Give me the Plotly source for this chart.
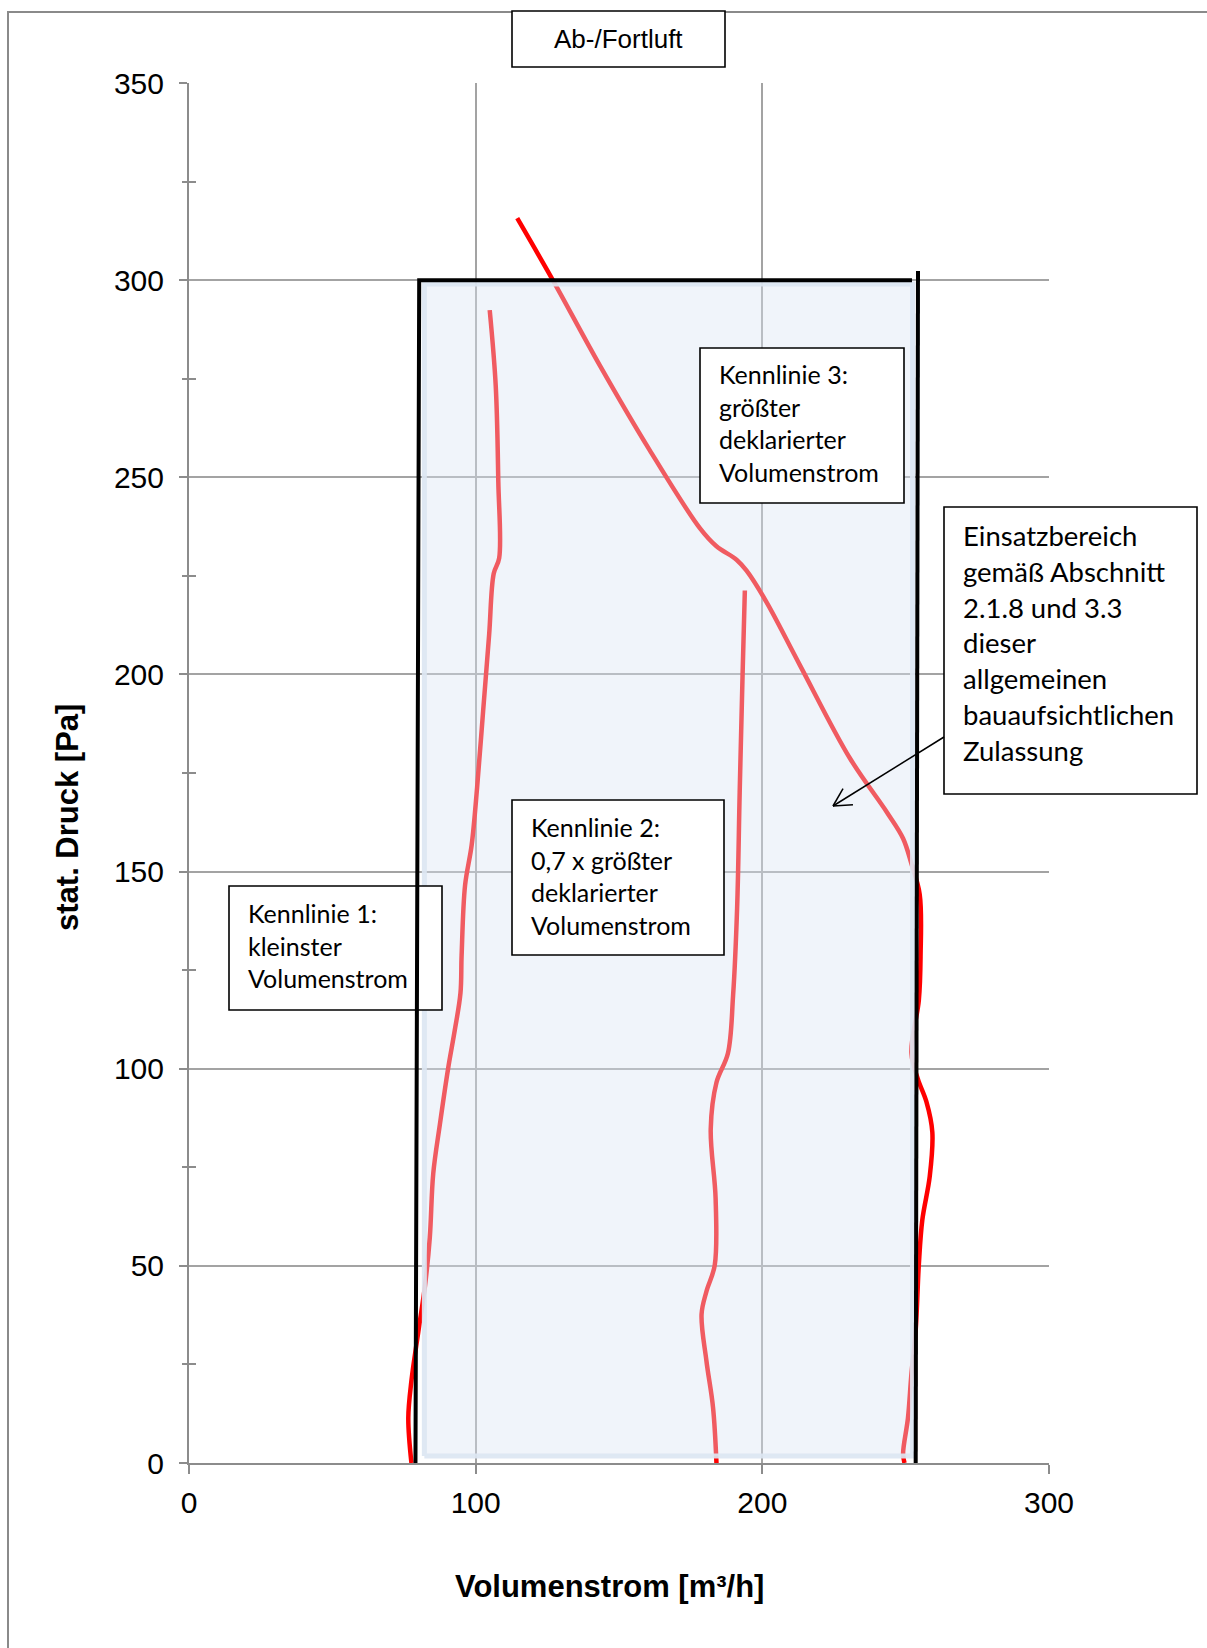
import math
import plotly.graph_objects as go

# ---- characteristic curves (Volumenstrom m³/h vs. stat. Druck Pa) ----
k1_flow = [77.6, 76.5, 77.6, 80.0, 82.3, 84.0, 85.2, 87.5, 90.4, 92.7, 94.7, 95.1,
           96.3, 98.6, 100.5, 102.6, 104.7, 106.3, 108.2, 107.9, 107.0, 104.9]
k1_pressure = [0, 11.4, 20.9, 33.3, 44.8, 57.2, 73.4, 85.8, 100.1, 109.7, 119.2, 128.8,
               146.5, 156.7, 171.3, 190.7, 210.1, 225.6, 229.5, 248.9, 273.2, 292.4]

k2_flow = [184.0, 182.8, 180.5, 178.8, 180.5, 183.4, 183.7, 182.0, 184.0, 188.0,
           189.8, 191.2, 192.1, 193.1, 193.9]
k2_pressure = [0, 14.1, 25.9, 37.7, 43.5, 50.2, 67.1, 84.7, 96.5, 103.9,
               118.6, 140.7, 170.1, 199.6, 221.3]

k3_flow = [114.5, 127.0, 143.3, 160.7, 178.2, 184.0, 191.0, 194.5, 201.4, 213.0,
           230.5, 243.5, 249.1, 252.0, 254.9, 255.2, 254.6, 252.0, 254.3, 257.2,
           259.3, 258.4, 255.8, 254.6, 253.5, 252.0, 250.8, 249.1, 249.6]
k3_pressure = [315.7, 299.9, 278.4, 256.9, 237.1, 232.5, 229.1, 226.3, 218.4, 202.5,
               178.8, 165.0, 158.4, 152.0, 144.2, 128.6, 117.4, 104.0, 97.3, 91.7,
               83.9, 72.7, 61.6, 50.4, 33.7, 22.5, 11.4, 2.4, 0]

# operating range (Einsatzbereich)
range_flow = [82.1, 252.4]
range_pressure = [1.8, 299.0]

# boundary lines of the operating range
bound_left_flow = [79.0, 80.3, 252.2]
bound_left_pressure = [0, 300, 300]
bound_right_flow = [253.5, 254.3]
bound_right_pressure = [0, 302.3]

x_ticks = [0, 100, 200, 300]
y_ticks = [0, 50, 100, 150, 200, 250, 300, 350]
y_minor = [25, 75, 125, 175, 225, 275, 325]

title_text = "Ab-/Fortluft"
x_title = "Volumenstrom [m³/h]"
y_title = "stat. Druck [Pa]"
label_k1 = "Kennlinie 1:<br>kleinster<br>Volumenstrom"
label_k2 = "Kennlinie 2:<br>0,7 x größter<br>deklarierter<br>Volumenstrom"
label_k3 = "Kennlinie 3:<br>größter<br>deklarierter<br>Volumenstrom"
label_range = ("Einsatzbereich<br>gemäß Abschnitt<br>2.1.8 und 3.3<br>dieser<br>"
               "allgemeinen<br>bauaufsichtlichen<br>Zulassung")

# ---- page geometry ----
FIG_W, FIG_H = 1207, 1648
L, R, T, B = 189, 1049, 83, 1463
PW, PH = R - L, B - T


def pxx(p):
    return (p - L) / PW


def pxy(p):
    return (B - p) / PH


AX_FONT = "Liberation Sans, Arial, sans-serif"
BOX_FONT = "Lato, Carlito, Calibri, sans-serif"
GRID = "#a3a3a3"
AXLINE = "#8c8c8c"
RED = "#ff0000"

fig = go.Figure()

for fx, fy in [(k1_flow, k1_pressure), (k2_flow, k2_pressure), (k3_flow, k3_pressure)]:
    fig.add_trace(go.Scatter(
        x=fx, y=fy, mode="lines",
        line=dict(color=RED, width=4.5, shape="spline", smoothing=1.0),
        hoverinfo="skip", showlegend=False,
    ))

# translucent operating range laid over the curves
fig.add_trace(go.Scatter(
    x=[range_flow[0], range_flow[1], range_flow[1], range_flow[0], range_flow[0]],
    y=[range_pressure[0], range_pressure[0], range_pressure[1], range_pressure[1], range_pressure[0]],
    mode="lines", fill="toself",
    fillcolor="rgba(217,227,242,0.4)",
    line=dict(color="rgba(220,230,242,0.92)", width=5),
    hoverinfo="skip", showlegend=False,
))

# empty trace so the overlay axis carrying the outer minor ticks is drawn
fig.add_trace(go.Scatter(x=[None], y=[None], yaxis="y2", showlegend=False, hoverinfo="skip"))

shapes = []
# outer chart frame
shapes.append(dict(type="rect", xref="paper", yref="paper",
                   x0=pxx(8), x1=pxx(1230), y0=pxy(12), y1=pxy(1680),
                   line=dict(color="#8a8a8a", width=2), fillcolor="rgba(0,0,0,0)",
                   layer="above"))


def box(x0, x1, y0, y1):
    return dict(type="rect", xref="paper", yref="paper",
                x0=pxx(x0), x1=pxx(x1), y0=pxy(y1), y1=pxy(y0),
                line=dict(color="black", width=1.6), fillcolor="white", layer="above")


shapes.append(box(512, 725, 11, 67))
shapes.append(box(229, 442, 886, 1010))
shapes.append(box(512, 724, 800, 955))
shapes.append(box(700, 904, 348, 503))
shapes.append(box(944, 1197, 507, 794))

# black boundary of the operating range
path_left = "M " + " L ".join(f"{a},{b}" for a, b in zip(bound_left_flow, bound_left_pressure))
path_right = "M " + " L ".join(f"{a},{b}" for a, b in zip(bound_right_flow, bound_right_pressure))
for p in (path_left, path_right):
    shapes.append(dict(type="path", xref="x", yref="y", path=p,
                       line=dict(color="black", width=4), layer="above"))

# arrow from the range label into the operating range
ax0, ay0 = 944, 737
tip_x, tip_y = 833, 806
shapes.append(dict(type="line", xref="paper", yref="paper",
                   x0=pxx(ax0), y0=pxy(ay0), x1=pxx(tip_x), y1=pxy(tip_y),
                   line=dict(color="black", width=1.5), layer="above"))
ang = math.atan2(ay0 - tip_y, ax0 - tip_x)
for d in (-0.49, 0.49):
    ex = tip_x + 20 * math.cos(ang + d)
    ey = tip_y + 20 * math.sin(ang + d)
    shapes.append(dict(type="line", xref="paper", yref="paper",
                       x0=pxx(tip_x), y0=pxy(tip_y), x1=pxx(ex), y1=pxy(ey),
                       line=dict(color="black", width=1.5), layer="above"))

annotations = []


def text_block(txt, x_left, y_center, size):
    return dict(text=txt, xref="paper", yref="paper", x=pxx(x_left), y=pxy(y_center),
                xanchor="left", yanchor="middle", align="left", showarrow=False,
                font=dict(family=BOX_FONT, size=size, color="black"), borderpad=0)


annotations.append(text_block(label_k1, 247, 945, 25))
annotations.append(text_block(label_k2, 530, 876, 25))
annotations.append(text_block(label_k3, 718, 423, 25))
annotations.append(text_block(label_range, 962, 643, 27.5))

annotations.append(dict(text=title_text, xref="paper", yref="paper",
                        x=pxx(618.5), y=pxy(39), xanchor="center", yanchor="middle",
                        showarrow=False, font=dict(family=AX_FONT, size=26, color="black")))
annotations.append(dict(text=f"<b>{x_title}</b>", xref="paper", yref="paper",
                        x=pxx(609), y=pxy(1586), xanchor="center", yanchor="middle",
                        showarrow=False, font=dict(family=AX_FONT, size=31, color="black")))
annotations.append(dict(text=f"<b>{y_title}</b>", xref="paper", yref="paper",
                        x=pxx(68), y=pxy(818), xanchor="center", yanchor="middle",
                        textangle=-90, showarrow=False,
                        font=dict(family=AX_FONT, size=31, color="black")))

fig.update_layout(
    width=FIG_W, height=FIG_H, autosize=False,
    margin=dict(l=L, r=FIG_W - R, t=T, b=FIG_H - B, pad=0),
    paper_bgcolor="white", plot_bgcolor="white",
    showlegend=False,
    shapes=shapes, annotations=annotations,
    xaxis=dict(
        range=[0, 300], tickvals=x_ticks, ticktext=[str(v) for v in x_ticks],
        showgrid=True, gridcolor=GRID, gridwidth=1.5, zeroline=False,
        showline=True, linecolor=AXLINE, linewidth=2,
        ticks="outside", ticklen=9, tickwidth=1.5, tickcolor=AXLINE,
        tickfont=dict(family=AX_FONT, size=30, color="black"),
        ticklabelstandoff=3, fixedrange=True,
    ),
    yaxis=dict(
        range=[0, 350], tickvals=y_ticks, ticktext=[str(v) for v in y_ticks],
        showgrid=True, gridcolor=GRID, gridwidth=1.5, zeroline=False,
        showline=True, linecolor=AXLINE, linewidth=2,
        ticks="outside", ticklen=8, tickwidth=1.5, tickcolor=AXLINE,
        minor=dict(tickvals=y_minor, ticks="inside", ticklen=7, tickwidth=1.5,
                   tickcolor=AXLINE, showgrid=False),
        tickfont=dict(family=AX_FONT, size=30, color="black"),
        ticklabelstandoff=9, fixedrange=True,
    ),
    yaxis2=dict(
        range=[0, 350], overlaying="y", side="left", anchor="x",
        tickvals=y_minor, showticklabels=False, showgrid=False, zeroline=False,
        showline=False, ticks="outside", ticklen=6, tickwidth=1.5, tickcolor=AXLINE,
        fixedrange=True,
    ),
)

fig.write_html("out.html")
